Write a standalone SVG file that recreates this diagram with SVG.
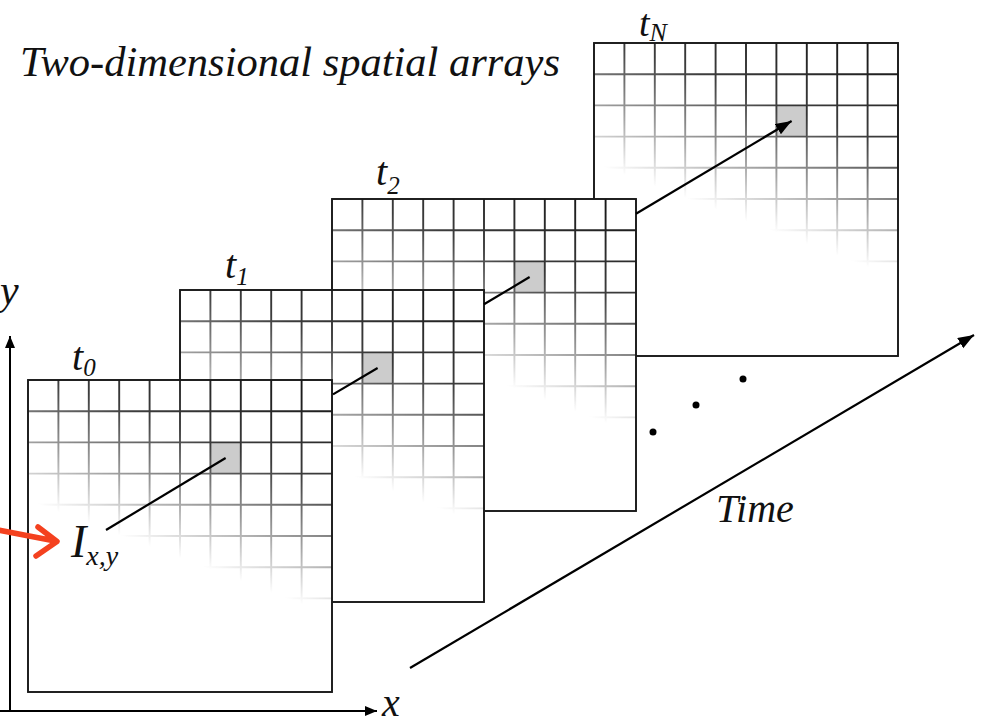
<svg xmlns="http://www.w3.org/2000/svg" xmlns:xlink="http://www.w3.org/1999/xlink" width="983" height="726" viewBox="0 0 983 726">
  <style>
    .lbl { font-family: "Liberation Serif", "Times New Roman", serif; font-style: italic; fill: #111; }
    .frame { fill: #fff; stroke: #333; stroke-width: 1.5; }
    .border { fill: none; stroke: #1a1a1a; stroke-width: 1.8; }
    .cell { fill: #cccccc; }
    .gl { stroke: #111; stroke-width: 1.9; }
    .conn { stroke: #000; stroke-width: 2.2; fill: none; }
    .axis { stroke: #000; stroke-width: 2; fill: none; }
  </style>
  <defs>
    <linearGradient id="fadeGrad" gradientUnits="userSpaceOnUse" x1="304" y1="0" x2="226" y2="206">
      <stop offset="0" stop-color="#fff"/>
      <stop offset="0.45" stop-color="#d0d0d0"/>
      <stop offset="0.75" stop-color="#666"/>
      <stop offset="1" stop-color="#000"/>
    </linearGradient>
    <mask id="fade" maskUnits="userSpaceOnUse" x="-5" y="-5" width="320" height="325">
      <rect x="-5" y="-5" width="320" height="325" fill="url(#fadeGrad)"/>
    </mask>
    <g id="grid">
      <g class="gl" mask="url(#fade)">
        <path d="M30.4,0V312 M60.8,0V312 M91.2,0V312 M121.6,0V312 M152,0V312 M182.4,0V312 M212.8,0V312 M243.2,0V312 M273.6,0V312"/>
        <path d="M0,31.2H304 M0,62.4H304 M0,93.6H304 M0,124.8H304 M0,156H304 M0,187.2H304 M0,218.4H304 M0,249.6H304 M0,280.8H304"/>
      </g>
    </g>
    <marker id="ah" markerUnits="userSpaceOnUse" markerWidth="18" markerHeight="14" refX="16" refY="6" orient="auto">
      <path d="M0,0 L16,6 L0,12 z" fill="#000"/>
    </marker>
    <marker id="ahs" markerUnits="userSpaceOnUse" markerWidth="14" markerHeight="12" refX="12" refY="5" orient="auto">
      <path d="M0,0 L12,5 L0,10 z" fill="#000"/>
    </marker>
  </defs>

  <rect width="983" height="726" fill="#fff"/>

  <text class="lbl" x="20" y="76" font-size="42.5">Two-dimensional spatial arrays</text>

  <g id="axes">
    <path class="axis" d="M10,712 V336" marker-end="url(#ahs)"/>
    <path class="axis" d="M0,711 H377" marker-end="url(#ahs)"/>
    <text class="lbl" x="0" y="304" font-size="42">y</text>
    <text class="lbl" x="382" y="716" font-size="40">x</text>
  </g>

  <g id="frame-tN" transform="translate(594,43)">
    <rect class="frame" x="0" y="0" width="304" height="313"/>
    <rect class="cell" x="182.4" y="62.4" width="30.4" height="31.2"/>
    <use xlink:href="#grid"/>
    <rect class="border" x="0" y="0" width="304" height="313"/>
  </g>
  <g id="frame-t2" transform="translate(332,199)">
    <rect class="frame" x="0" y="0" width="304" height="312"/>
    <rect class="cell" x="182.4" y="62.4" width="30.4" height="31.2"/>
    <use xlink:href="#grid"/>
    <rect class="border" x="0" y="0" width="304" height="312"/>
  </g>
  <g id="frame-t1" transform="translate(180,290)">
    <rect class="frame" x="0" y="0" width="304" height="312"/>
    <rect class="cell" x="182.4" y="62.4" width="30.4" height="31.2"/>
    <use xlink:href="#grid"/>
    <rect class="border" x="0" y="0" width="304" height="312"/>
  </g>
  <g id="frame-t0" transform="translate(28,380)">
    <rect class="frame" x="0" y="0" width="304" height="312"/>
    <rect class="cell" x="182.4" y="62.4" width="30.4" height="31.2"/>
    <use xlink:href="#grid"/>
    <rect class="border" x="0" y="0" width="304" height="312"/>
  </g>

  <g id="labels">
    <text class="lbl" x="72" y="370" font-size="40">t<tspan font-size="25" dy="6">0</tspan></text>
    <text class="lbl" x="225" y="278" font-size="40">t<tspan font-size="25" dy="7">1</tspan></text>
    <text class="lbl" x="376" y="185" font-size="40">t<tspan font-size="25" dy="9">2</tspan></text>
    <text class="lbl" x="639" y="36" font-size="38">t<tspan font-size="26" dy="5">N</tspan></text>
    <text class="lbl" x="71" y="557" font-size="46">I<tspan font-size="28" dy="8">x,y</tspan></text>
    <text class="lbl" x="716" y="522" font-size="40">Time</text>
  </g>

  <g id="connectors">
    <path class="conn" d="M106,530 L225.6,458"/>
    <path class="conn" d="M333,394.4 L377.6,368"/>
    <path class="conn" d="M484,304.3 L529.6,277"/>
    <path class="conn" d="M636,213.7 L791.6,121" marker-end="url(#ah)"/>
    <path class="conn" d="M410,668 L974,335" marker-end="url(#ah)"/>
    <path d="M-2,530 L55,541 M38,527 L57,541.5 L36,556" fill="none" stroke="#f4411f" stroke-width="5.5" stroke-linecap="round" stroke-linejoin="round"/>
  </g>

  <g id="dots" fill="#000">
    <circle cx="653" cy="432" r="3.5"/>
    <circle cx="696" cy="405" r="3.5"/>
    <circle cx="743" cy="379" r="3.5"/>
  </g>
</svg>
